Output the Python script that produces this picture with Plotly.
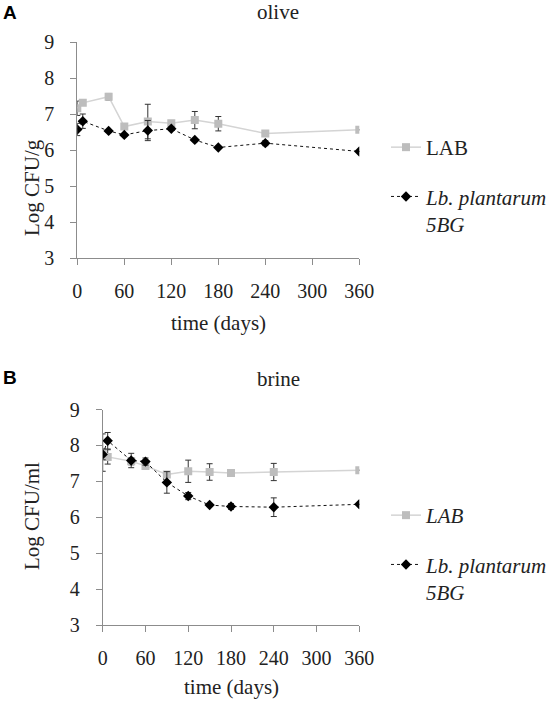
import plotly.graph_objects as go

days = [0, 7, 40, 60, 90, 120, 150, 180, 240, 360]

# Panel A: olive (Log CFU/g)
olive_lab = [7.16, 7.31, 7.48, 6.65, 6.79, 6.74, 6.83, 6.73, 6.46, 6.56]
olive_lab_err = [0.2, 0.07, 0.09, 0.05, 0.48, 0.08, 0.24, 0.2, 0.08, 0.0]
olive_lp = [6.57, 6.80, 6.53, 6.42, 6.54, 6.59, 6.28, 6.07, 6.19, 5.96]
olive_lp_err = [0.17, 0.2, 0.04, 0.03, 0.28, 0.05, 0.04, 0.03, 0.07, 0.0]

# Panel B: brine (Log CFU/ml)
brine_lab = [7.8, 7.68, 7.56, 7.43, 7.19, 7.28, 7.26, 7.23, 7.26, 7.31]
brine_lab_err = [0.52, 0.2, 0.1, 0.1, 0.06, 0.31, 0.23, 0.03, 0.24, 0.0]
brine_lp = [7.75, 8.13, 7.58, 7.55, 6.97, 6.59, 6.34, 6.30, 6.28, 6.36]
brine_lp_err = [0.15, 0.23, 0.2, 0.1, 0.3, 0.1, 0.03, 0.08, 0.26, 0.0]

x_ticks = [0, 60, 120, 180, 240, 300, 360]
y_ticks = [3, 4, 5, 6, 7, 8, 9]

W, H = 558, 702
SERIF = "Liberation Serif"
AX = "#8c8c8c"
LAB_C = "#bdbdbd"
LAB_LINE = "#d4d4d4"

def px(x):
    return x / W

def py(y):
    return 1 - y / H

fig = go.Figure()

def add_panel(xa, ya, lab, lab_err, lp, lp_err, legend, lab_name):
    fig.add_trace(go.Scatter(
        x=days, y=lab, xaxis=xa, yaxis=ya, name=lab_name, legend=legend,
        legendgroup=legend + "lab",
        mode="lines+markers",
        line=dict(color=LAB_LINE, width=1.5),
        marker=dict(symbol="square", size=8, color=LAB_C),
        error_y=dict(type="data", array=lab_err, color="#333333", thickness=1, width=3),
    ))
    fig.add_trace(go.Scatter(
        x=days, y=lp, xaxis=xa, yaxis=ya,
        name="<i>Lb. plantarum</i><br><i>5BG</i>", legend=legend,
        legendgroup=legend + "lp",
        mode="lines+markers",
        line=dict(color="#111111", width=1, dash="dot"),
        marker=dict(symbol="diamond", size=8, color="#000000"),
        error_y=dict(type="data", array=lp_err, color="#333333", thickness=1, width=3),
    ))

add_panel("x", "y", olive_lab, olive_lab_err, olive_lp, olive_lp_err, "legend", "LAB")
add_panel("x2", "y2", brine_lab, brine_lab_err, brine_lp, brine_lp_err, "legend2", "<i>LAB</i>")

tickfont = dict(family=SERIF, size=20, color="#222222")

def xaxis(domain, anchor):
    return dict(domain=domain, anchor=anchor, range=[0, 360], tickvals=x_ticks,
                showline=True, linecolor=AX, linewidth=1, ticks="outside",
                ticklen=6, tickcolor=AX, showgrid=False, zeroline=False,
                tickfont=tickfont, ticklabelstandoff=9)

def yaxis(domain, anchor):
    return dict(domain=domain, anchor=anchor, range=[3, 9], tickvals=y_ticks,
                showline=True, linecolor=AX, linewidth=1, ticks="outside",
                ticklen=6, tickcolor=AX, showgrid=False, zeroline=False,
                tickfont=tickfont, ticklabelstandoff=12)

legend_common = dict(font=dict(family=SERIF, size=21, color="#222222"),
                     bgcolor="rgba(0,0,0,0)", borderwidth=0, tracegroupgap=19,
                     itemwidth=30, valign="top", xanchor="left", yanchor="top")

fig.update_layout(
    width=W, height=H, autosize=False,
    margin=dict(l=0, r=0, t=0, b=0, autoexpand=False),
    paper_bgcolor="white", plot_bgcolor="white",
    xaxis=xaxis([px(77.3), px(359.3)], "y"),
    yaxis=yaxis([py(258), py(42)], "x"),
    xaxis2=xaxis([px(102.7), px(359.3)], "y2"),
    yaxis2=yaxis([py(625), py(409.5)], "x2"),
    legend=dict(x=px(386), y=py(127), **legend_common),
    legend2=dict(x=px(386), y=py(495), **legend_common),
    showlegend=True,
)

def ann(text, x, y, size=21, angle=0, family=SERIF, bold=False):
    fig.add_annotation(text=f"<b>{text}</b>" if bold else text,
                       x=px(x), y=py(y), xref="paper", yref="paper",
                       showarrow=False, textangle=angle,
                       font=dict(family=family, size=size, color="#222222" if not bold else "#000000"),
                       xanchor="center", yanchor="middle")

ann("A", 10, 13, size=19, family="Liberation Sans", bold=True)
ann("B", 10, 377, size=19, family="Liberation Sans", bold=True)
ann("olive", 278, 12)
ann("brine", 278, 379)
ann("Log CFU/g", 32, 188, angle=-90)
ann("Log CFU/ml", 32, 516, angle=-90)
ann("time (days)", 218, 323)
ann("time (days)", 231, 687)

fig.write_html(
    "out.html",
    config={"displayModeBar": False},
    post_script="document.body.style.margin='0';document.body.style.overflow='hidden';",
)
